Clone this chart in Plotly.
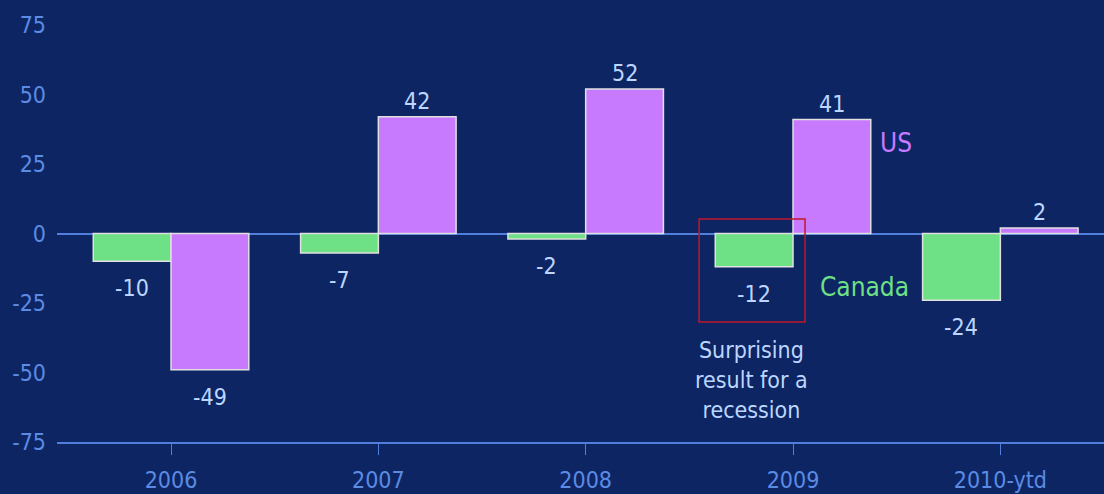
import plotly.graph_objects as go

categories = ["2006", "2007", "2008", "2009", "2010-ytd"]
canada = [-10, -7, -2, -12, -24]
us = [-49, 42, 52, 41, 2]
y_ticks = [75, 50, 25, 0, -25, -50, -75]

FONT = "DejaVu Sans Condensed"
GREEN = "#6ee085"
PURPLE = "#c87aff"
LABEL = "#bcd6ff"
TICK = "#5b8be3"
AXIS = "#4f7fdb"
BG = "#0e2564"
BARGAP = 0.25

fig = go.Figure()
fig.add_trace(go.Bar(
    x=categories, y=canada, name="Canada",
    marker=dict(color=GREEN, line=dict(color="#e0e0e0", width=1.5)),
))
fig.add_trace(go.Bar(
    x=categories, y=us, name="US",
    marker=dict(color=PURPLE, line=dict(color="#e0e0e0", width=1.5)),
))

# value labels placed at each bar through the axes
half = (1 - BARGAP) / 4
for series, off in ((canada, -half), (us, half)):
    for i, v in enumerate(series):
        fig.add_annotation(
            x=i + off, y=v, xref="x", yref="y", text=str(v), showarrow=False,
            yanchor="middle", yshift=(-27 if v < 0 else 16),
            font=dict(family=FONT, size=23, color=LABEL),
        )

fig.update_layout(
    width=1104, height=494,
    margin=dict(l=57, r=0, t=25, b=52),
    paper_bgcolor=BG, plot_bgcolor="rgba(0,0,0,0)",
    barmode="group", bargap=BARGAP, bargroupgap=0,
    showlegend=False,
    font=dict(family=FONT, size=23, color=TICK),
)
fig.update_xaxes(
    range=[-0.55, 4.5], showgrid=False, showline=True, linecolor=AXIS, linewidth=1.5,
    ticks="outside", ticklen=11, tickcolor=AXIS, tickwidth=1, automargin=False,
    tickfont=dict(family=FONT, size=23, color=TICK), zeroline=False,
    ticklabelstandoff=6,
)
fig.update_yaxes(
    range=[-75, 75], tickvals=y_ticks, ticktext=[str(v) for v in y_ticks],
    showgrid=False, showline=False, zeroline=True, zerolinecolor=AXIS, zerolinewidth=1.5,
    tickfont=dict(family=FONT, size=23, color=TICK), ticks="", ticklabelstandoff=10,
    automargin=False,
)

fig.add_annotation(x=0.784, y=0.717, xref="paper", yref="paper", text="US", showarrow=False,
                   xanchor="left", yanchor="middle",
                   font=dict(family=FONT, size=26, color=PURPLE))
fig.add_annotation(x=0.816, y=0.372, xref="paper", yref="paper", text="Canada", showarrow=False,
                   xanchor="right", yanchor="middle",
                   font=dict(family=FONT, size=26, color=GREEN))
fig.add_annotation(x=0.663, y=0.149, xref="paper", yref="paper",
                   text="Surprising<br>result for a<br>recession", showarrow=False,
                   xanchor="center", yanchor="middle",
                   font=dict(family=FONT, size=23, color=LABEL))
fig.add_shape(type="rect", xref="x", yref="y", x0=2.547, x1=3.058, y0=5.2, y1=-31.8,
              line=dict(color="#c0172a", width=1.5), fillcolor="rgba(0,0,0,0)")

fig.write_html(
    "out.html",
    config={"displayModeBar": False},
    post_script="document.body.style.margin='0';document.body.style.background='%s';"
                "document.body.style.overflow='hidden';" % BG,
)
